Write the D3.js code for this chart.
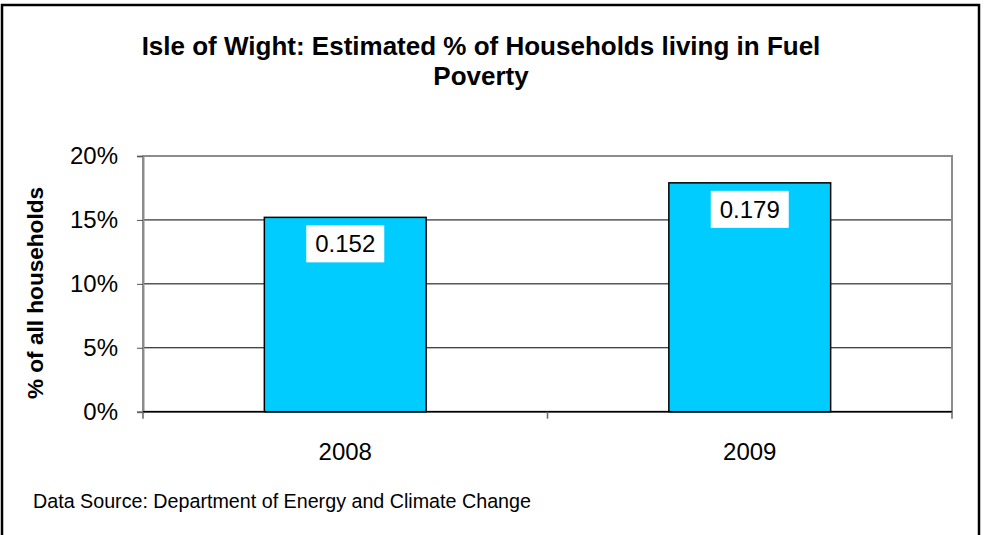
<!DOCTYPE html>
<html>
<head>
<meta charset="utf-8">
<script src="https://cdn.jsdelivr.net/npm/d3@7"></script>
<style>
  body { margin: 0; background: #fff; }
  svg { display: block; font-family: "Liberation Sans", Arial, sans-serif; }
</style>
</head>
<body>
<svg id="chart" width="984" height="535"></svg>
<script>
// chart data
let years = ["2008", "2009"];
let fuelPoverty = [0.152, 0.179];
let yTicks = [0, 0.05, 0.10, 0.15, 0.20];

let margin = {top: 156, right: 32, bottom: 123.3, left: 143};
let width = 984 - margin.left - margin.right;
let height = 535 - margin.top - margin.bottom;

let root = d3.select("#chart");

// outer chart frame
root.append("rect")
  .attr("x", 2).attr("y", 5)
  .attr("width", 977).attr("height", 545)
  .style("fill", "none")
  .style("stroke", "#000")
  .style("stroke-width", 2.5);

// title
let title = root.append("text")
  .attr("text-anchor", "middle")
  .style("font-weight", "bold")
  .style("font-size", "26px");
title.append("tspan").attr("x", 481).attr("y", 55)
  .text("Isle of Wight: Estimated % of Households living in Fuel");
title.append("tspan").attr("x", 481).attr("y", 85)
  .text("Poverty");

let svg = root.append("g")
  .attr("transform", "translate(" + margin.left + "," + margin.top + ")");

let x = d3.scaleBand()
  .domain(years)
  .range([0, width])
  .paddingInner(0.6)
  .paddingOuter(0.3);

let y = d3.scaleLinear()
  .domain([0, 0.2])
  .range([height, 0]);

// gridlines
svg.selectAll("line.grid")
  .data(yTicks.filter(function(d){ return d > 0 && d < 0.2; }))
  .enter()
  .append("line")
    .attr("class", "grid")
    .attr("x1", 0).attr("x2", width)
    .attr("y1", function(d){ return y(d); })
    .attr("y2", function(d){ return y(d); })
    .style("stroke", "#000")
    .style("stroke-width", 1);

// plot border
svg.append("rect")
  .attr("width", width).attr("height", height)
  .style("fill", "none")
  .style("stroke", "#8c8c8c")
  .style("stroke-width", 2);

// bars
svg.selectAll("rect.bar")
  .data(fuelPoverty)
  .enter()
  .append("rect")
    .attr("class", "bar")
    .attr("x", function(d, i){ return x(years[i]); })
    .attr("y", function(d){ return y(d); })
    .attr("width", x.bandwidth())
    .attr("height", function(d){ return height - y(d); })
    .style("fill", "#00ccff")
    .style("stroke", "#000")
    .style("stroke-width", 1.5);

// value labels
let labels = svg.selectAll("g.label")
  .data(fuelPoverty)
  .enter()
  .append("g")
    .attr("class", "label")
    .attr("transform", function(d, i){
      return "translate(" + (x(years[i]) + x.bandwidth()/2) + "," + (y(d) + 8) + ")";
    });
labels.append("rect")
  .attr("x", -39).attr("y", 0)
  .attr("width", 78).attr("height", 37)
  .style("fill", "#fff");
labels.append("text")
  .attr("text-anchor", "middle")
  .attr("y", 27)
  .style("font-size", "24px")
  .text(function(d){ return d; });

// y axis
let yAxis = svg.append("g")
  .call(d3.axisLeft(y).tickValues(yTicks).tickFormat(d3.format(".0%")).tickSize(6).tickPadding(19));
yAxis.select(".domain").style("stroke", "#8c8c8c").style("stroke-width", 2);
yAxis.selectAll(".tick line").style("stroke", "#555");
yAxis.selectAll("text")
  .style("font-size", "24px")
  .style("font-family", "Liberation Sans, Arial, sans-serif")
  .style("fill", "#000");

// x axis: tick marks on category boundaries
let xAxisG = svg.append("g")
  .attr("transform", "translate(0," + height + ")");
xAxisG.append("line")
  .attr("x1", 0).attr("x2", width)
  .style("stroke", "#000").style("stroke-width", 1.5);
let bounds = [0].concat(years.map(function(d){ return x(d) + x.bandwidth() + x.step()*x.paddingInner()/2; }));
xAxisG.selectAll("line.tick")
  .data(bounds)
  .enter()
  .append("line")
    .attr("class", "tick")
    .attr("x1", function(d){ return d; })
    .attr("x2", function(d){ return d; })
    .attr("y1", 0).attr("y2", 7)
    .style("stroke", "#666")
    .style("stroke-width", 1.5);
xAxisG.selectAll("text")
  .data(years)
  .enter()
  .append("text")
    .attr("x", function(d){ return x(d) + x.bandwidth()/2; })
    .attr("y", 48)
    .attr("text-anchor", "middle")
    .style("font-size", "24px")
    .text(function(d){ return d; });

// y axis title
root.append("text")
  .attr("transform", "translate(43,293) rotate(-90)")
  .attr("text-anchor", "middle")
  .style("font-weight", "bold")
  .style("font-size", "22.6px")
  .text("% of all households");

// source note
root.append("text")
  .attr("x", 33).attr("y", 508)
  .style("font-size", "19.7px")
  .text("Data Source: Department of Energy and Climate Change");
</script>
</body>
</html>
